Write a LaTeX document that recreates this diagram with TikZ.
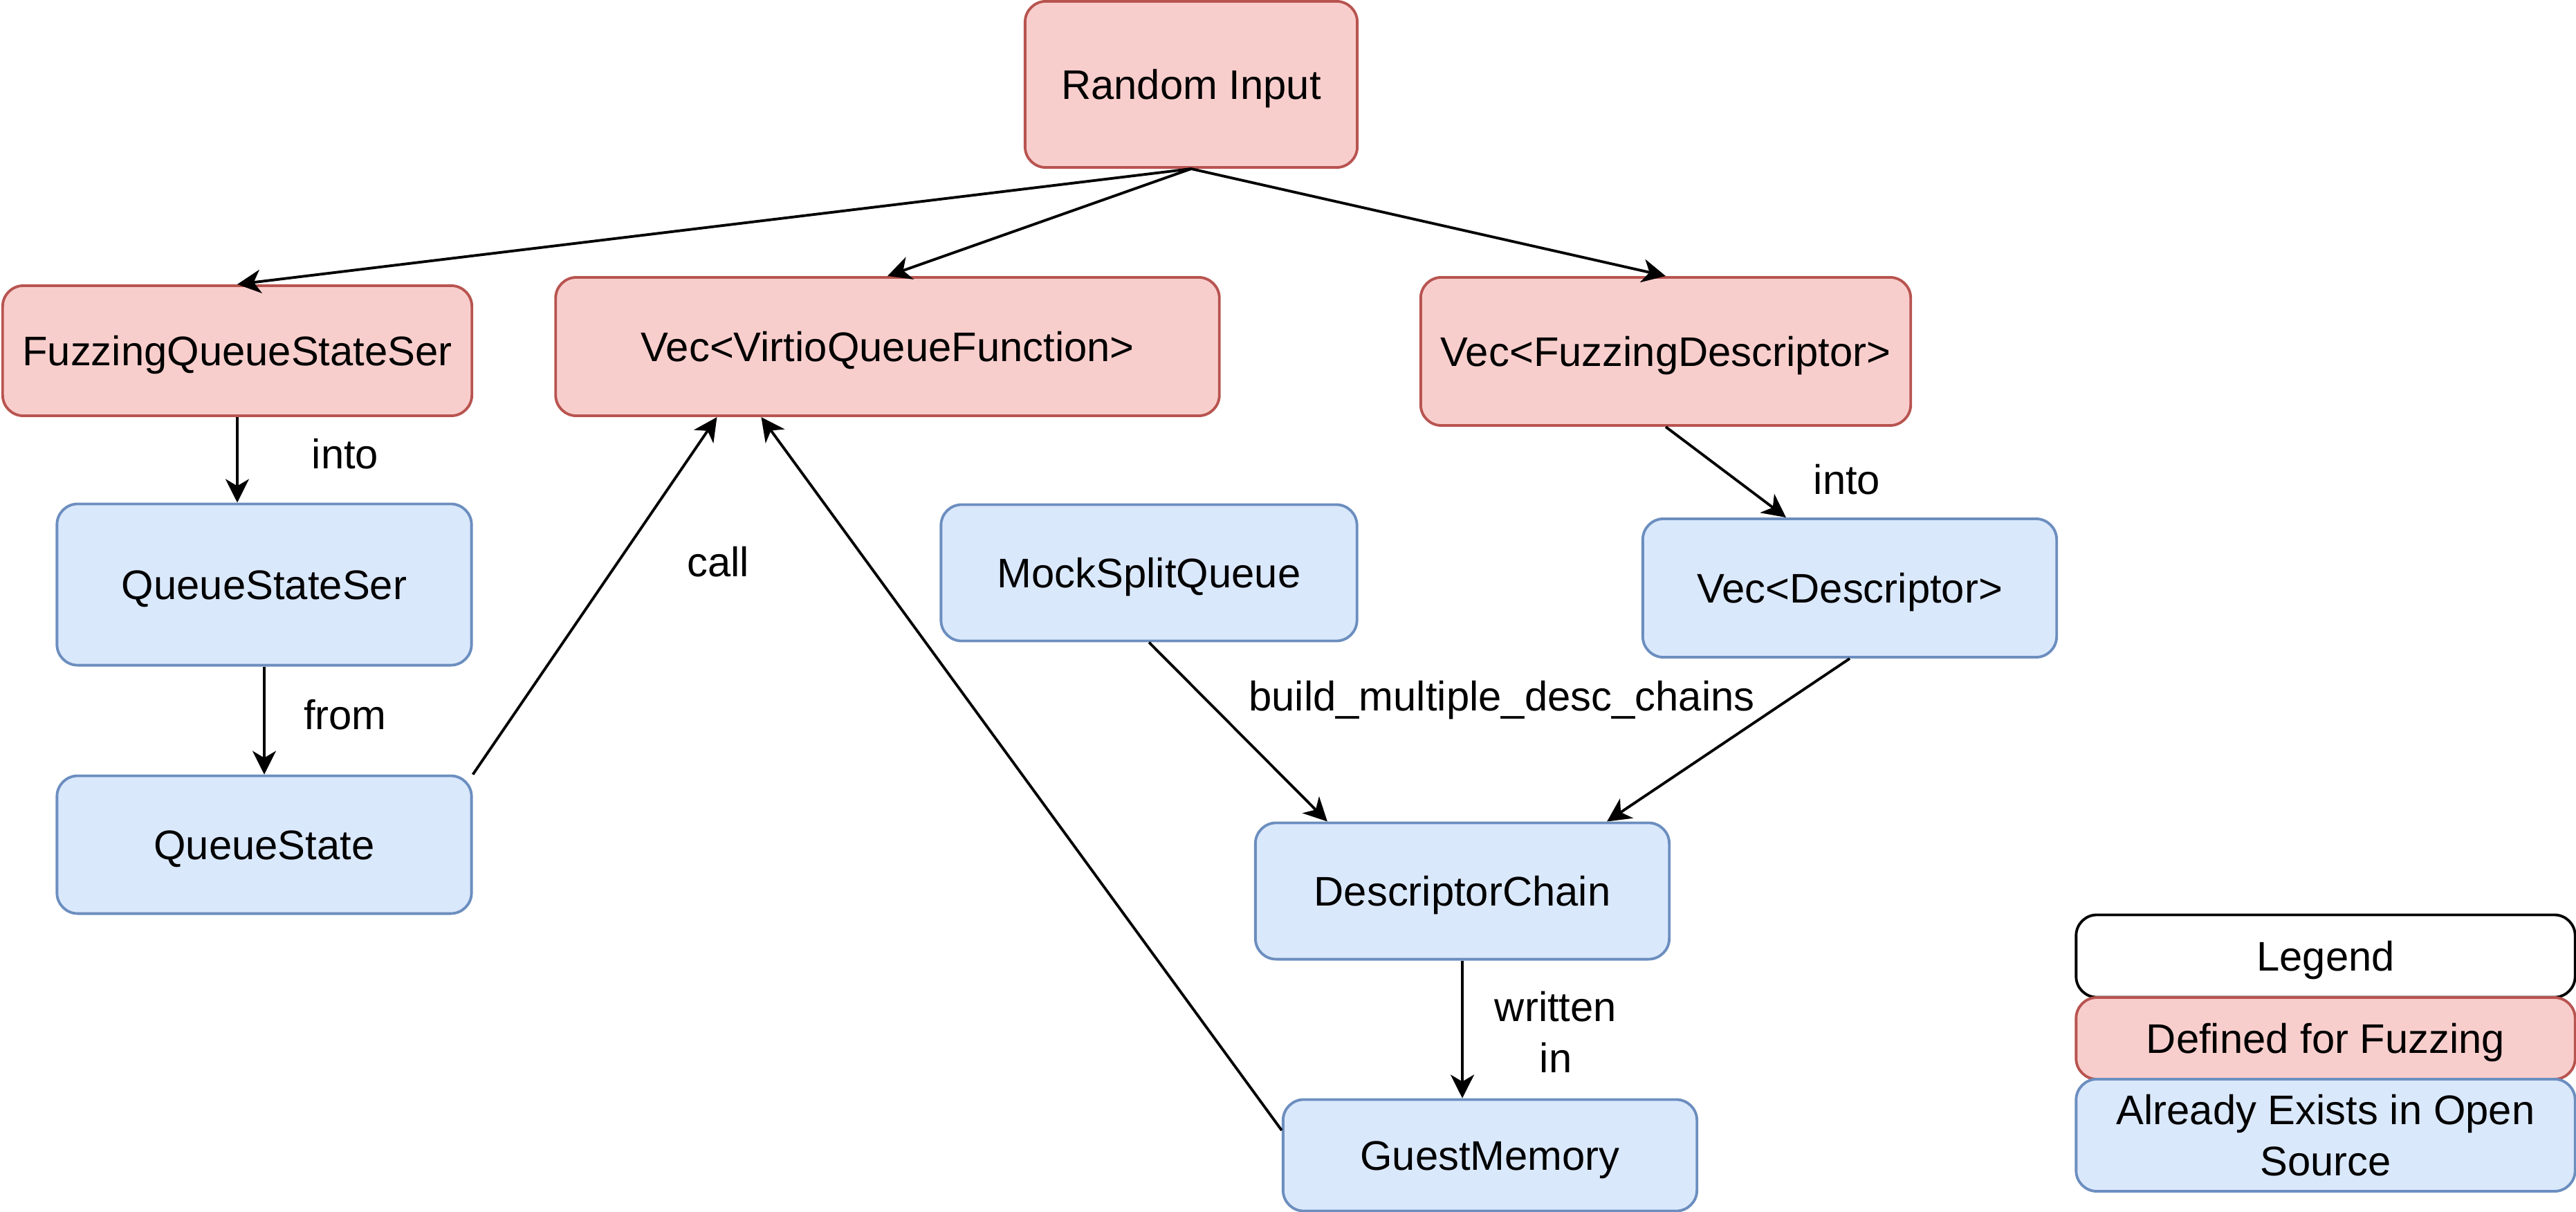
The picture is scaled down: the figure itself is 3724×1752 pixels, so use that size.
\documentclass[tikz,border=0pt]{standalone}
\usepackage{fontspec}
\setmainfont{Liberation Sans}
\usetikzlibrary{arrows.meta}
\definecolor{fuzzfill}{HTML}{F8CECC}
\definecolor{fuzzline}{HTML}{B85450}
\definecolor{osfill}{HTML}{DAE8FC}
\definecolor{osline}{HTML}{6C8EBF}
\begin{document}
\begin{tikzpicture}[x=0.01cm,y=-0.01cm,
  txt/.style={font=\fontsize{17}{21}\selectfont, align=center},
  box/.style={txt, rectangle, rounded corners=0.3cm, line width=1.1pt, inner sep=0pt,
              text height=12.2pt, text depth=0pt},
  fuzz/.style={box, draw=fuzzline, fill=fuzzfill},
  os/.style={box, draw=osline, fill=osfill},
  lbl/.style={txt, inner sep=0pt},
  arr/.style={-{Stealth[length=0.34cm,width=0.34cm,inset=0.1cm]}, line width=1.1pt}
]
\useasboundingbox (0,0) rectangle (3724,1752);

% data types built for the fuzzer
\node[fuzz, minimum width=4.80cm, minimum height=2.40cm] (rin)  at (1722,122) {Random Input};
\node[fuzz, minimum width=6.78cm, minimum height=1.88cm] (fqss) at (343,507) {FuzzingQueueStateSer};
\node[fuzz, minimum width=9.59cm, minimum height=2.00cm] (vqf)  at (1283,501) {Vec<VirtioQueueFunction>};
\node[fuzz, minimum width=7.08cm, minimum height=2.14cm] (vfd)  at (2408,508) {Vec<FuzzingDescriptor>};

% existing open-source types
\node[os, minimum width=5.99cm, minimum height=2.33cm] (qss) at (382,845) {QueueStateSer};
\node[os, minimum width=5.99cm, minimum height=1.99cm] (qs)  at (382,1221) {QueueState};
\node[os, minimum width=6.01cm, minimum height=1.97cm] (msq) at (1661,828) {MockSplitQueue};
\node[os, minimum width=5.98cm, minimum height=2.00cm] (vd)  at (2674,850) {Vec<Descriptor>};
\node[os, minimum width=5.98cm, minimum height=1.97cm] (dc)  at (2114,1288) {DescriptorChain};
\node[os, minimum width=5.98cm, minimum height=1.61cm] (gm)  at (2154,1670) {GuestMemory};

% legend
\node[box, draw=black, fill=white, minimum width=7.21cm, minimum height=1.19cm] (leg)  at (3362,1382) {Legend};
\node[fuzz, minimum width=7.21cm, minimum height=1.18cm] (legf) at (3362,1501) {Defined for Fuzzing};
\node[os, text height={}, text depth={}, minimum width=7.21cm, minimum height=1.62cm] (lego) at (3362,1641) {Already Exists in Open\\Source};

% connectors
\draw[arr] (rin.south) -- (fqss.north);
\draw[arr] (rin.south) -- (vqf.north);
\draw[arr] (rin.south) -- (vfd.north);
\draw[arr] (fqss.south) -- (fqss.south |- qss.north);
\draw[arr] (qss.south) -- (qs.north);
\draw[arr] (vfd.south) -- ([xshift=-0.92cm]vd.north);
\draw[arr] (qs.north east) -- ([xshift=2.35cm]vqf.south west);
\draw[arr] ([yshift=0.36cm]gm.west) -- ([xshift=2.99cm]vqf.south west);
\draw[arr] (msq.south) -- ([xshift=-1.95cm]dc.north);
\draw[arr] (vd.south) -- ([xshift=2.09cm]dc.north);
\draw[arr] (dc.south) -- (dc.south |- gm.north);

% connector labels
\node[lbl] (linto)    at (499,656)   {into};
\node[lbl] (linto2)   at (2670,693)  {into};
\node[lbl] (lfrom)    at (499,1033)  {from};
\node[lbl] (lcall)    at (1038,812)  {call};
\node[lbl] (lbuild)   at (2171,1012) {build\_multiple\_desc\_chains};
\node[lbl] (lwritten) at (2249,1492) {written\\in};
\end{tikzpicture}
\end{document}
